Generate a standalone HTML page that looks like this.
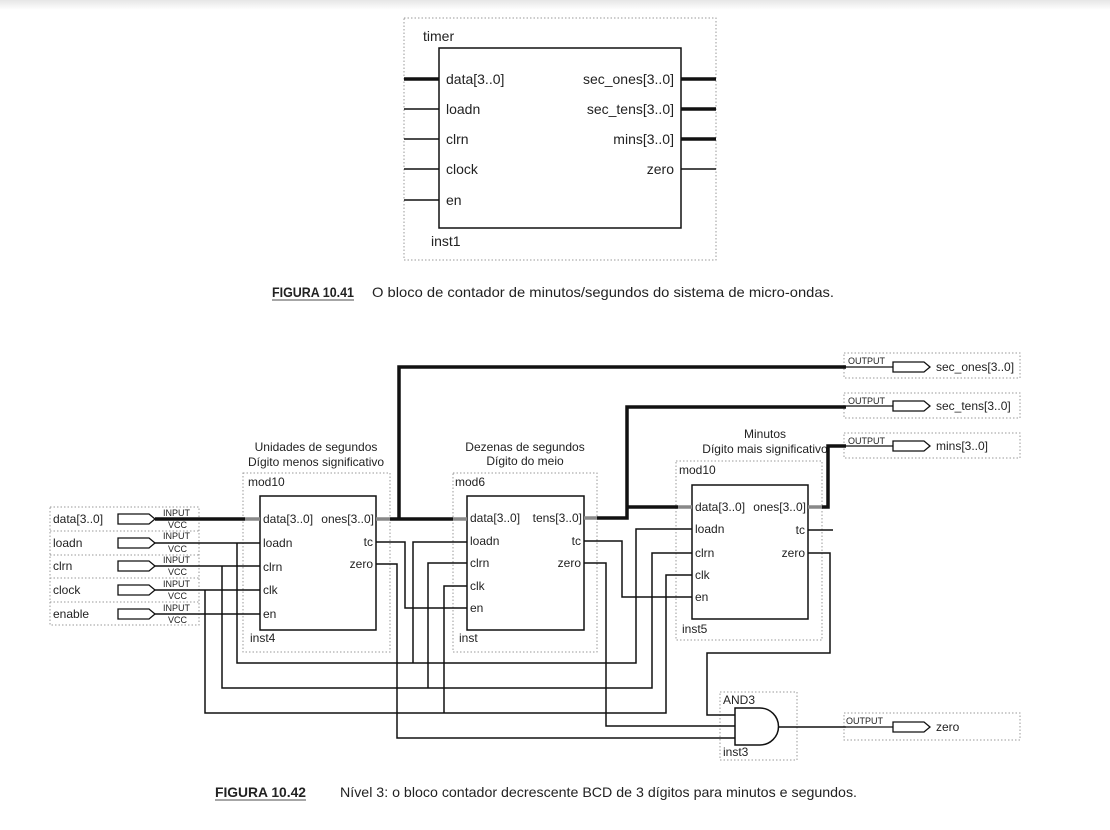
<!DOCTYPE html>
<html><head><meta charset="utf-8"><style>
html,body{margin:0;padding:0;background:#fff;}
svg{display:block;}
text{font-family:"Liberation Sans",sans-serif;fill:#222;}
.cap{font-family:"Liberation Sans Narrow","Liberation Sans",sans-serif;}
</style></head><body>
<svg width="1110" height="830" viewBox="0 0 1110 830" xmlns="http://www.w3.org/2000/svg">
<defs><linearGradient id="g" x1="0" y1="0" x2="0" y2="1"><stop offset="0" stop-color="#e6e6e6"/><stop offset="1" stop-color="#fff"/></linearGradient></defs>
<rect x="0" y="0" width="1110" height="10" fill="url(#g)"/>

<rect x="404" y="18" width="312" height="242" fill="none" stroke="#999" stroke-dasharray="1.5,2"/>
<rect x="439" y="48" width="242" height="180" fill="none" stroke="#111" stroke-width="1.5"/>
<g stroke="#111">
<line x1="404" y1="79" x2="439" y2="79" stroke-width="3.5"/>
<line x1="404" y1="109" x2="439" y2="109" stroke-width="1.5"/>
<line x1="404" y1="139" x2="439" y2="139" stroke-width="1.5"/>
<line x1="404" y1="169" x2="439" y2="169" stroke-width="1.5"/>
<line x1="404" y1="200" x2="439" y2="200" stroke-width="1.5"/>
<line x1="681" y1="79" x2="716" y2="79" stroke-width="3.5"/>
<line x1="681" y1="109" x2="716" y2="109" stroke-width="3.5"/>
<line x1="681" y1="139" x2="716" y2="139" stroke-width="3.5"/>
<line x1="681" y1="169" x2="716" y2="169" stroke-width="1.5"/>
</g>
<g font-size="14">
<text x="423" y="41">timer</text>
<text x="446" y="84">data[3..0]</text>
<text x="446" y="114">loadn</text>
<text x="446" y="144">clrn</text>
<text x="446" y="174">clock</text>
<text x="446" y="205">en</text>
<text x="674" y="84" text-anchor="end">sec_ones[3..0]</text>
<text x="674" y="114" text-anchor="end">sec_tens[3..0]</text>
<text x="674" y="144" text-anchor="end">mins[3..0]</text>
<text x="674" y="174" text-anchor="end">zero</text>
<text x="431" y="246">inst1</text>
</g>
<text class="cap" x="272" y="297" font-size="14" font-weight="bold" fill="#444" textLength="82" lengthAdjust="spacingAndGlyphs">FIGURA 10.41</text>
<line x1="272" y1="300" x2="354" y2="300" stroke="#888" stroke-width="1.5"/>
<text class="cap" x="372" y="297" font-size="14" textLength="462" lengthAdjust="spacingAndGlyphs">O bloco de contador de minutos/segundos do sistema de micro-ondas.</text>

<g fill="none" stroke="#999" stroke-dasharray="1.5,2">
<rect x="50" y="507" width="149" height="118"/>
<line x1="50" y1="531" x2="199" y2="531"/>
<line x1="50" y1="555" x2="199" y2="555"/>
<line x1="50" y1="578" x2="199" y2="578"/>
<line x1="50" y1="602" x2="199" y2="602"/>
<rect x="243" y="473" width="147" height="179"/>
<rect x="453" y="473" width="144" height="179"/>
<rect x="676" y="461" width="146" height="179"/>
<rect x="720" y="692" width="77" height="68"/>
<rect x="844" y="353" width="176" height="25"/>
<rect x="844" y="393" width="176" height="25"/>
<rect x="844" y="433" width="176" height="25"/>
<rect x="844" y="713" width="176" height="27"/>
</g>
<g fill="#fff" stroke="#111" stroke-width="1.3">
<path d="M118 514 H149 L155 519 L149 524 H118 Z"/>
<path d="M118 538 H149 L155 543 L149 548 H118 Z"/>
<path d="M118 561 H149 L155 566 L149 571 H118 Z"/>
<path d="M118 585 H149 L155 590 L149 595 H118 Z"/>
<path d="M118 609 H149 L155 614 L149 619 H118 Z"/>
<path d="M893 362 H924 L930 367 L924 372 H893 Z"/>
<path d="M893 401 H924 L930 406 L924 411 H893 Z"/>
<path d="M893 441 H924 L930 446 L924 451 H893 Z"/>
<path d="M893 722 H924 L930 727 L924 732 H893 Z"/>
</g>
<g font-size="12">
<text x="53" y="523">data[3..0]</text>
<text x="53" y="547">loadn</text>
<text x="53" y="570">clrn</text>
<text x="53" y="594">clock</text>
<text x="53" y="618">enable</text>
<text x="936" y="371">sec_ones[3..0]</text>
<text x="936" y="410">sec_tens[3..0]</text>
<text x="936" y="450">mins[3..0]</text>
<text x="936" y="731">zero</text>
</g>
<g font-size="9">
<text x="163" y="516">INPUT</text><text x="168" y="528">VCC</text>
<text x="163" y="539">INPUT</text><text x="168" y="552">VCC</text>
<text x="163" y="563">INPUT</text><text x="168" y="575">VCC</text>
<text x="163" y="587">INPUT</text><text x="168" y="599">VCC</text>
<text x="163" y="611">INPUT</text><text x="168" y="623">VCC</text>
<text x="848" y="364">OUTPUT</text>
<text x="848" y="404">OUTPUT</text>
<text x="848" y="444">OUTPUT</text>
<text x="846" y="724">OUTPUT</text>
</g>
<g stroke="#111" stroke-width="1.3">
<line x1="846" y1="367" x2="893" y2="367"/><line x1="846" y1="406" x2="893" y2="406"/><line x1="846" y1="446" x2="893" y2="446"/><line x1="846" y1="727" x2="893" y2="727"/></g>

<g fill="none" stroke="#111" stroke-width="1.5">
<rect x="260" y="496" width="116" height="134"/>
<rect x="467" y="496" width="117" height="134"/>
<rect x="692" y="485" width="116" height="134"/>
<path d="M735 708 H760 A18.5 18.5 0 0 1 760 745 H735 Z"/>
</g>
<g font-size="12">
<text x="316" y="451" text-anchor="middle">Unidades de segundos</text>
<text x="316" y="466" text-anchor="middle">Dígito menos significativo</text>
<text x="525" y="451" text-anchor="middle">Dezenas de segundos</text>
<text x="525" y="465" text-anchor="middle">Dígito do meio</text>
<text x="765" y="438" text-anchor="middle">Minutos</text>
<text x="765" y="453" text-anchor="middle">Dígito mais significativo</text>
<text x="248" y="486">mod10</text><text x="250" y="642">inst4</text>
<text x="455" y="486">mod6</text><text x="459" y="642">inst</text>
<text x="679" y="474">mod10</text><text x="682" y="633">inst5</text>
<text x="723" y="704">AND3</text><text x="723" y="756">inst3</text>
<text x="263" y="523">data[3..0]</text><text x="263" y="547">loadn</text><text x="263" y="571">clrn</text><text x="263" y="594">clk</text><text x="263" y="618">en</text>
<text x="374" y="523" text-anchor="end">ones[3..0]</text><text x="373" y="546" text-anchor="end">tc</text><text x="373" y="568" text-anchor="end">zero</text>
<text x="470" y="522">data[3..0]</text><text x="470" y="545">loadn</text><text x="470" y="567">clrn</text><text x="470" y="590">clk</text><text x="470" y="612">en</text>
<text x="582" y="522" text-anchor="end">tens[3..0]</text><text x="581" y="545" text-anchor="end">tc</text><text x="581" y="567" text-anchor="end">zero</text>
<text x="695" y="511">data[3..0]</text><text x="695" y="533">loadn</text><text x="695" y="557">clrn</text><text x="695" y="579">clk</text><text x="695" y="601">en</text>
<text x="806" y="511" text-anchor="end">ones[3..0]</text><text x="805" y="534" text-anchor="end">tc</text><text x="805" y="557" text-anchor="end">zero</text>
</g>

<g fill="none" stroke="#111" stroke-width="3.5">
<path d="M155 519 H245"/>
<path d="M390 519 H453"/>
<path d="M399 519 V367 H846"/>
<path d="M597 518 H627 V407 H846"/>
<path d="M627 507 H678"/>
<path d="M822 507 H828 V446 H846"/>
</g>
<g fill="none" stroke="#888" stroke-width="3.5">
<path d="M245 519 H260"/><path d="M376 519 H390"/><path d="M453 519 H467"/><path d="M584 518 H597"/><path d="M678 507 H692"/><path d="M808 507 H822"/>
</g>
<g fill="none" stroke="#111" stroke-width="1.5">
<path d="M155 543 H260"/><path d="M155 566 H260"/><path d="M155 590 H260"/><path d="M155 614 H260"/>
<path d="M237 543 V663 H636 V529 H692"/>
<path d="M222 566 V688 H652 V553 H692"/>
<path d="M205 590 V713 H666 V575 H692"/>
<path d="M376 542 H405 V608 H467"/>
<path d="M376 564 H397 V738 H735"/>
<path d="M413 663 V542 H467"/>
<path d="M428 688 V563 H467"/>
<path d="M444 713 V586 H467"/>
<path d="M584 541 H622 V597 H692"/>
<path d="M584 563 H606 V726 H735"/>
<path d="M808 553 H830 V653 H707 V715 H735"/>
<path d="M808 530 H833"/>
<path d="M779 727 H846"/>
</g>
<text class="cap" x="215" y="797" font-size="14" font-weight="bold" fill="#444" textLength="91" lengthAdjust="spacingAndGlyphs">FIGURA 10.42</text>
<line x1="215" y1="800" x2="306" y2="800" stroke="#888" stroke-width="1.5"/>
<text class="cap" x="340" y="797" font-size="14" textLength="517" lengthAdjust="spacingAndGlyphs">Nível 3: o bloco contador decrescente BCD de 3 dígitos para minutos e segundos.</text>
</svg>
</body></html>
